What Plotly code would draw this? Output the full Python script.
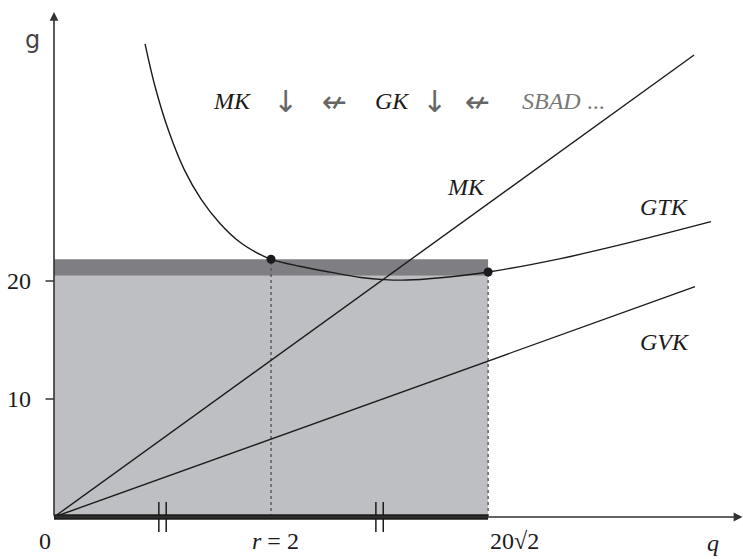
import plotly.graph_objects as go

# ---- data ----
# average total cost curve (GTK), read as (q, g) points
gtk_q = [5.93, 6.6, 7.5, 8.5, 9.6, 10.8, 12.1, 13.2, 14.14, 16.0, 18.0, 20.0, 21.5,
         23.0, 25.0, 28.28, 33.0, 37.0, 42.8]
gtk_g = [40.1, 36.4, 32.6, 29.4, 26.9, 24.9, 23.3, 22.4, 21.84, 21.25, 20.75, 20.3, 20.12,
         20.08, 20.25, 20.76, 21.9, 23.1, 25.03]

# straight lines from the origin: marginal cost (MK) and average variable cost (GVK)
mk_q = [0.0, 41.7]
mk_g = [0.0, 39.15]
gvk_q = [0.0, 41.76]
gvk_g = [0.0, 19.52]

# highlighted output levels and their GTK values
mark_q = [14.14, 28.28]
mark_g = [21.84, 20.76]

# shaded areas: base rectangle and the band above it
base_top = 20.45
band_top = 21.84
q_end = 28.28

# axis labels
y_tick_vals = [20, 10]
y_tick_text = ["20", "10"]
x_tick_text = ["0", "<i>r</i> = 2", "20\u221a2"]

# ---- figure ----
SERIF = "Liberation Serif"
INK = "#1b1b1b"
FS = 24

fig = go.Figure()

# shaded rectangles
fig.add_shape(type="rect", x0=0, x1=q_end, y0=0, y1=base_top,
              fillcolor="#bebfc3", line_width=0, layer="below")
fig.add_shape(type="rect", x0=0, x1=q_end, y0=base_top, y1=band_top,
              fillcolor="#7f7f83", line_width=0, layer="below")

# dotted drop lines from the two marked points
for q, g in zip(mark_q, mark_g):
    fig.add_trace(go.Scatter(x=[q, q], y=[0, g], mode="lines",
                             line=dict(color="#555555", width=1.4, dash="dot"),
                             hoverinfo="skip", showlegend=False))

# cost curves
fig.add_trace(go.Scatter(x=mk_q, y=mk_g, mode="lines",
                         line=dict(color=INK, width=1.4), showlegend=False))
fig.add_trace(go.Scatter(x=gvk_q, y=gvk_g, mode="lines",
                         line=dict(color=INK, width=1.4), showlegend=False))
fig.add_trace(go.Scatter(x=gtk_q, y=gtk_g, mode="lines",
                         line=dict(color=INK, width=1.4, shape="spline", smoothing=1.0),
                         showlegend=False))

# thick segment on the q axis
fig.add_trace(go.Scatter(x=[0, q_end], y=[0, 0], mode="lines",
                         line=dict(color="#1e1e1e", width=5.5), showlegend=False))

# equal-length marks (||) on the two halves of the segment
for qc in [q_end / 4, 3 * q_end / 4]:
    for dq in (-0.24, 0.24):
        fig.add_trace(go.Scatter(x=[qc + dq, qc + dq], y=[-1.27, 1.27], mode="lines",
                                 line=dict(color=INK, width=1.5), showlegend=False))

# marked points
fig.add_trace(go.Scatter(x=mark_q, y=mark_g, mode="markers",
                         marker=dict(color=INK, size=9), showlegend=False))

# y ticks
for v in y_tick_vals:
    fig.add_trace(go.Scatter(x=[-0.55, 0], y=[v, v], mode="lines",
                             line=dict(color="#333333", width=1.5), showlegend=False))

# axes with arrowheads
fig.add_annotation(x=0, y=42.8, ax=0, ay=0, xref="x", yref="y", axref="x", ayref="y",
                   text="", showarrow=True, arrowhead=2, arrowsize=1.1,
                   arrowwidth=1.6, arrowcolor="#333333", standoff=0)
fig.add_annotation(x=44.85, y=0, ax=0, ay=0, xref="x", yref="y", axref="x", ayref="y",
                   text="", showarrow=True, arrowhead=2, arrowsize=1.1,
                   arrowwidth=1.6, arrowcolor="#333333", standoff=0)


def label(x, y, text, size=FS, color=INK, family=SERIF, xanchor="center"):
    fig.add_annotation(x=x, y=y, xref="x", yref="y", text=text, showarrow=False,
                       xanchor=xanchor, yanchor="middle",
                       font=dict(family=family, size=size, color=color))


# tick labels
for v, t in zip(y_tick_vals, y_tick_text):
    label(-1.37, v, t, xanchor="right")
label(-0.59, -2.0, x_tick_text[0])
label(14.46, -2.0, x_tick_text[1])
label(29.97, -2.0, x_tick_text[2])

# axis titles
label(42.93, -2.2, "<i>q</i>")
label(-1.37, 40.4, "g", family="DejaVu Sans", size=24, color="#444444")

# curve names
label(26.9, 27.97, "<i>MK</i>")
label(39.8, 26.27, "<i>GTK</i>")
label(39.8, 14.83, "<i>GVK</i>")

# chain of effects along the top
row_y = 35.25
ARROW = dict(color="#666666", family="DejaVu Sans", size=30)
label(11.63, row_y, "<i>MK</i>")
label(15.05, row_y, "\u2193", **ARROW)
label(18.3, row_y, "\u219a", **ARROW)
label(22.05, row_y, "<i>GK</i>")
label(24.82, row_y, "\u2193", **ARROW)
label(27.56, row_y, "\u219a", **ARROW)
label(30.36, row_y, "<i>SBAD</i> ...", color="#777777", xanchor="left")

fig.update_xaxes(visible=False, range=[-3.518, 44.886], fixedrange=True)
fig.update_yaxes(visible=False, range=[-3.559, 43.814], fixedrange=True)
fig.update_layout(width=743, height=559, margin=dict(l=0, r=0, t=0, b=0),
                  plot_bgcolor="white", paper_bgcolor="white", showlegend=False)

fig.write_html("out.html")
